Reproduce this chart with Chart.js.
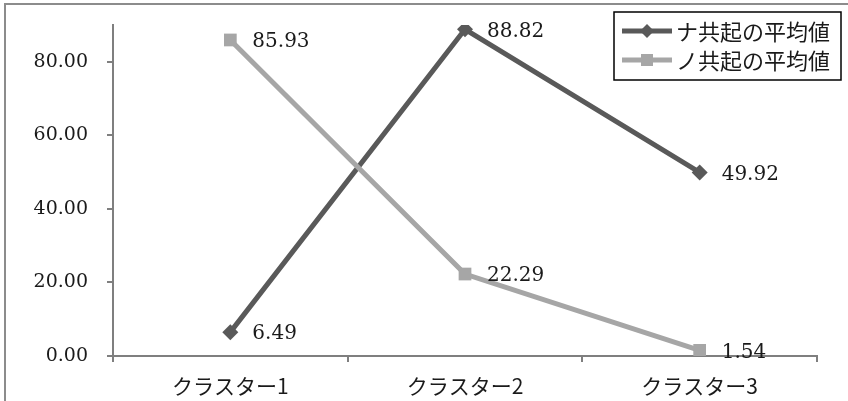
<!DOCTYPE html>
<html>
<head>
<meta charset="utf-8">
<script src="https://cdn.jsdelivr.net/npm/chart.js@4"></script>
<style>
    html, body { margin: 0; padding: 0; background: #fff; }
    #wrap { width: 848px; height: 401px; position: relative; }
</style>
</head>
<body>
<div id="wrap"><canvas id="c" width="848" height="401"></canvas></div>
<script>
const categories = ['クラスター1', 'クラスター2', 'クラスター3'];
const naValues = [6.49, 88.82, 49.92];
const noValues = [85.93, 22.29, 1.54];
const yTicks = [0, 20, 40, 60, 80];
const seriesNames = ['ナ共起の平均値', 'ノ共起の平均値'];

const darkColor = '#595959';
const lightColor = '#a6a6a6';
const axisColor = '#7f7f7f';
const numFont = '"DejaVu Serif", "Liberation Serif", serif';
const jpFont = '"Noto Sans CJK JP", sans-serif';

// value labels to the right of each point
const valueLabels = {
    id: 'valueLabels',
    afterDatasetsDraw(chart) {
        const ctx = chart.ctx;
        ctx.save();
        ctx.font = '20px ' + numFont;
        ctx.fillStyle = '#1a1a1a';
        ctx.textAlign = 'left';
        ctx.textBaseline = 'middle';
        chart.data.datasets.forEach((ds, i) => {
            const meta = chart.getDatasetMeta(i);
            meta.data.forEach((pt, j) => {
                ctx.fillText(ds.data[j].toFixed(2), pt.x + 22, pt.y + 2);
            });
        });
        ctx.restore();
    }
};

// outer frame + boxed legend in the top right
const frameAndLegend = {
    id: 'frameAndLegend',
    beforeDraw(chart) {
        const ctx = chart.ctx;
        ctx.save();
        ctx.strokeStyle = '#8c8c8c';
        ctx.lineWidth = 2;
        ctx.beginPath();
        ctx.moveTo(5, 401);
        ctx.lineTo(5, 4);
        ctx.lineTo(848, 4);
        ctx.stroke();
        ctx.restore();
    },
    afterDraw(chart) {
        const ctx = chart.ctx;
        ctx.save();
        ctx.fillStyle = '#fff';
        ctx.fillRect(614, 12, 227, 68);
        ctx.strokeStyle = '#000';
        ctx.lineWidth = 1.5;
        ctx.strokeRect(614, 12, 227, 68);
        chart.data.datasets.forEach((ds, i) => {
            const y = 31 + i * 29;
            ctx.strokeStyle = ds.borderColor;
            ctx.lineWidth = 5;
            ctx.beginPath();
            ctx.moveTo(622, y);
            ctx.lineTo(672, y);
            ctx.stroke();
            ctx.fillStyle = ds.pointBackgroundColor;
            ctx.beginPath();
            if (ds.pointStyle === 'rectRot') {
                ctx.moveTo(647, y - 7);
                ctx.lineTo(654, y);
                ctx.lineTo(647, y + 7);
                ctx.lineTo(640, y);
                ctx.closePath();
            } else {
                ctx.rect(641, y - 6, 12, 12);
            }
            ctx.fill();
            ctx.fillStyle = '#1a1a1a';
            ctx.font = '22px ' + jpFont;
            ctx.textAlign = 'left';
            ctx.textBaseline = 'middle';
            ctx.fillText(ds.label, 676, y + 1);
        });
        ctx.restore();
    }
};

new Chart(document.getElementById('c'), {
    type: 'line',
    data: {
        labels: categories,
        datasets: [
            {
                label: seriesNames[0],
                data: naValues,
                order: 2,
                borderColor: darkColor,
                backgroundColor: darkColor,
                pointBackgroundColor: darkColor,
                pointBorderColor: darkColor,
                borderWidth: 5,
                pointStyle: 'rectRot',
                pointRadius: 8,
                pointBorderWidth: 0,
                tension: 0
            },
            {
                label: seriesNames[1],
                data: noValues,
                order: 1,
                borderColor: lightColor,
                backgroundColor: lightColor,
                pointBackgroundColor: lightColor,
                pointBorderColor: lightColor,
                borderWidth: 5,
                pointStyle: 'rect',
                pointRadius: 9,
                pointBorderWidth: 0,
                tension: 0
            }
        ]
    },
    options: {
        responsive: false,
        animation: false,
        layout: { padding: { left: 0, top: 25, right: 31, bottom: 0 } },
        plugins: {
            legend: { display: false },
            tooltip: { enabled: false }
        },
        scales: {
            x: {
                offset: true,
                afterFit: (s) => { s.height = 45; s.paddingLeft = 0; s.paddingRight = 0; },
                grid: { offset: true, drawOnChartArea: false, tickLength: 6, color: axisColor, lineWidth: 2 },
                border: { color: axisColor, width: 2 },
                ticks: { color: '#1a1a1a', font: { family: jpFont, size: 21 }, padding: 11 }
            },
            y: {
                min: 0,
                max: 90,
                afterFit: (s) => { s.width = 113; s.paddingTop = 0; s.paddingBottom = 0; },
                afterBuildTicks: (s) => { s.ticks = yTicks.map(v => ({ value: v })); },
                grid: { drawOnChartArea: false, tickLength: 6, color: axisColor, lineWidth: 2 },
                border: { color: axisColor, width: 2 },
                ticks: {
                    color: '#1a1a1a',
                    font: { family: numFont, size: 19 },
                    padding: 19,
                    callback: (v) => Number(v).toFixed(2)
                }
            }
        }
    },
    plugins: [frameAndLegend, valueLabels]
});
</script>
</body>
</html>
